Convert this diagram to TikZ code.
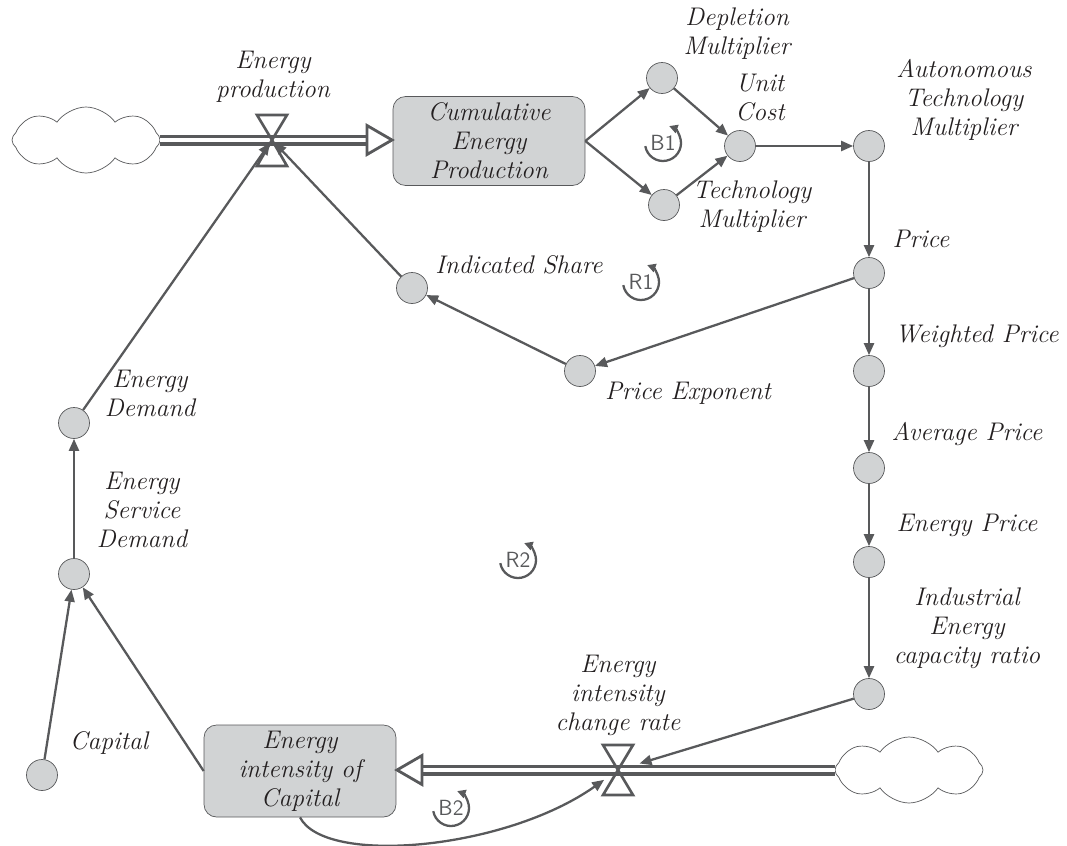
\documentclass[tikz,border=0pt]{standalone}
\usepackage{tikz}
\usetikzlibrary{arrows.meta}
\usetikzlibrary{shapes.symbols}

\definecolor{linegray}{HTML}{58595B}
\definecolor{boxgray}{HTML}{D1D3D4}
\definecolor{textgray}{HTML}{231F20}
\newcommand{\cldfont}{\itshape\fontsize{14.5}{16.5}\selectfont}

\begin{document}
\begin{tikzpicture}[x=0.02cm,y=-0.02cm,
  aux/.style={circle,draw=linegray,fill=boxgray,thin,minimum size=0.62cm,inner sep=0pt},
  stock/.style={rectangle,rounded corners=0.25cm,draw=linegray,fill=boxgray,thin,minimum width=3.84cm,minimum height=1.78cm,align=center,font=\cldfont,text=textgray},
  lbl/.style={align=center,font=\cldfont,text=textgray},
  link/.style={draw=linegray,line width=1.3pt,-{Triangle[length=0.24cm,width=0.2cm]}},
  pipeline/.style={draw=linegray,line width=0.22cm},
  pipeinner/.style={draw=white,line width=0.08cm},
  pipehead/.style={draw=linegray,line width=1.6pt,fill=white,line join=miter},
  valveline/.style={draw=linegray,line width=1.5pt,line join=miter},
  cloudy/.style={cloud,cloud puffs=8,cloud puff arc=110,aspect=2.3,draw=linegray,fill=white,thin,minimum width=2.96cm,minimum height=1.32cm},
  loopsym/.style={draw=linegray,line width=1.3pt,-{Triangle[length=0.17cm,width=0.17cm]}},
  looptxt/.style={font=\sffamily\fontsize{12.5}{12.5}\selectfont,text=linegray}]
\useasboundingbox (0,0) rectangle (1067,845);

% stocks and clouds
\node[stock] (cumProd) at (489,141) {Cumulative\\Energy\\Production};
\node[stock] (intCap) at (300,771) {Energy\\intensity of\\Capital};
\node[cloudy] (srcL) at (86,140) {};
\node[cloudy] (srcR) at (909,770) {};
\coordinate (vProd) at (272,140);
\coordinate (vInt) at (618,770);
\coordinate (hProd) at (367,140);
\coordinate (hInt) at (422,770);

% auxiliaries
\node[aux] (deplMult) at (662,78) {};
\node[aux] (techMult) at (664,205) {};
\node[aux] (unitCost) at (740,146) {};
\node[aux] (autoMult) at (869,146) {};
\node[aux] (price) at (869,273) {};
\node[aux] (wPrice) at (869,371) {};
\node[aux] (avgPrice) at (869,468) {};
\node[aux] (enPrice) at (869,562) {};
\node[aux] (capRatio) at (869,694) {};
\node[aux] (priceExp) at (580,371) {};
\node[aux] (indShare) at (412,288) {};
\node[aux] (enDemand) at (74,423) {};
\node[aux] (servDemand) at (74,574) {};
\node[aux] (capital) at (42,775) {};

% labels
\node[lbl] (lProd) at (273,77) {Energy\\production};
\node[lbl] (lDepl) at (737,34) {Depletion\\Multiplier};
\node[lbl] (lUnit) at (760,98) {Unit\\Cost};
\node[lbl] (lTech) at (752,207) {Technology\\Multiplier};
\node[lbl] (lAuto) at (964,100) {Autonomous\\Technology\\Multiplier};
\node[lbl] (lPrice) at (921,239) {Price};
\node[lbl] (lWPrice) at (977,336) {Weighted Price};
\node[lbl] (lAvg) at (967,434) {Average Price};
\node[lbl] (lEnPrice) at (967,525) {Energy Price};
\node[lbl] (lRatio) at (967,628) {Industrial\\Energy\\capacity ratio};
\node[lbl] (lExp) at (688,393) {Price Exponent};
\node[lbl] (lShare) at (519,265) {Indicated Share};
\node[lbl] (lDemand) at (150,393) {Energy\\Demand};
\node[lbl] (lServ) at (142,510) {Energy\\Service\\Demand};
\node[lbl] (lCap) at (109,743) {Capital};
\node[lbl] (lRate) at (618,695) {Energy\\intensity\\change rate};

% flows
\draw[pipeline] (srcL.east) -- (hProd);
\draw[pipeinner] (srcL.east) -- (hProd);
\draw[pipehead] (hProd) ++(0,-14.5) -- ++(25,14.5) -- ++(-25,14.5) -- cycle;
\draw[pipeline] (srcR.west) -- (hInt);
\draw[pipeinner] (srcR.west) -- (hInt);
\draw[pipehead] (hInt) ++(0,-14.5) -- ++(-25,14.5) -- ++(25,14.5) -- cycle;
\draw[valveline] (vProd) ++(-15,-25) -- ++(30,0) -- (vProd) -- cycle;
\draw[valveline] (vProd) ++(-15,26) -- ++(30,0) -- (vProd) -- cycle;
\draw[valveline] (vInt) ++(-15,-25) -- ++(30,0) -- (vInt) -- cycle;
\draw[valveline] (vInt) ++(-15,25) -- ++(30,0) -- (vInt) -- cycle;

% links
\draw[link] (cumProd.east) -- (deplMult);
\draw[link] (cumProd.east) -- (techMult);
\draw[link] (deplMult) -- (unitCost);
\draw[link] (techMult) -- (unitCost);
\draw[link] (unitCost) -- (autoMult);
\draw[link] (autoMult) -- (price);
\draw[link] (price) -- (wPrice);
\draw[link] (wPrice) -- (avgPrice);
\draw[link] (avgPrice) -- (enPrice);
\draw[link] (enPrice) -- (capRatio);
\draw[link] (price) -- (priceExp);
\draw[link] (priceExp) -- (indShare);
\draw[link,shorten >=2pt] (indShare) -- (vProd);
\draw[link,shorten >=2pt] (enDemand) -- (vProd);
\draw[link] (servDemand) -- (enDemand);
\draw[link] (capital) -- (servDemand);
\draw[link] (intCap.west) -- (servDemand);
\draw[link,shorten >=0.45cm] (capRatio) -- (vInt);
\draw[link,shorten >=0.34cm] (intCap.south) .. controls (325,866) and (505,850) .. (vInt);

% loop markers
\node[looptxt] (loopB1) at (663,143) {B1};
\draw[loopsym] (loopB1.center) ++(-190:18) arc[start angle=-190,end angle=-430,radius=18];
\node[looptxt] (loopR1) at (641,282) {R1};
\draw[loopsym] (loopR1.center) ++(-190:18) arc[start angle=-190,end angle=-430,radius=18];
\node[looptxt] (loopR2) at (518,560) {R2};
\draw[loopsym] (loopR2.center) ++(-190:18) arc[start angle=-190,end angle=-430,radius=18];
\node[looptxt] (loopB2) at (451,808) {B2};
\draw[loopsym] (loopB2.center) ++(-190:18) arc[start angle=-190,end angle=-430,radius=18];

\end{tikzpicture}
\end{document}
